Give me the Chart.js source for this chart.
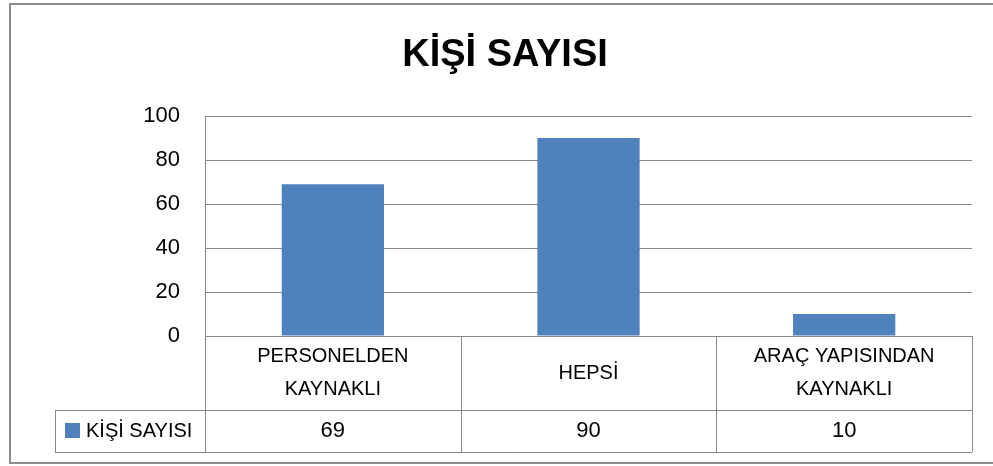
<!DOCTYPE html>
<html>
<head>
<meta charset="utf-8">
<script src="https://cdn.jsdelivr.net/npm/chart.js@4"></script>
<style>
html, body { margin: 0; padding: 0; background: #fff; }
#wrap { width: 993px; height: 466px; }
</style>
</head>
<body>
<div id="wrap"><canvas id="myChart" width="993" height="466"></canvas></div>
<script>
const chartTitle = "KİŞİ SAYISI";
const seriesName = "KİŞİ SAYISI";
const categories = [["PERSONELDEN", "KAYNAKLI"], ["HEPSİ"], ["ARAÇ YAPISINDAN", "KAYNAKLI"]];
const values = [69, 90, 10];
const yTicks = [0, 20, 40, 60, 80, 100];

const FONT = "'Liberation Sans', Arial, sans-serif";
const barColor = "#4F81BD";
const lineColor = "#868686";

// draws the outer frame, the title and the excel-like data table under the plot
const tablePlugin = {
    id: "tablePlugin",
    afterDraw(chart) {
        const ctx = chart.ctx;
        const area = chart.chartArea;
        const n = categories.length;
        const colW = (area.right - area.left) / n;
        const rowTop = area.bottom;
        const rowMid = rowTop + 74;
        const rowBot = rowMid + 42;
        const legLeft = 55;

        ctx.save();
        // outer frame
        ctx.strokeStyle = "#8c8c8c";
        ctx.lineWidth = 2;
        ctx.strokeRect(10, 4, 1000, 459);

        // title
        ctx.fillStyle = "#000";
        ctx.font = "bold 38px " + FONT;
        ctx.textAlign = "center";
        ctx.textBaseline = "middle";
        ctx.fillText(chartTitle, 505, 56);

        // table lines
        ctx.strokeStyle = lineColor;
        ctx.lineWidth = 1;
        ctx.beginPath();
        ctx.moveTo(area.left, rowTop + 0.5); ctx.lineTo(area.right, rowTop + 0.5);
        ctx.moveTo(legLeft, rowMid + 0.5); ctx.lineTo(area.right, rowMid + 0.5);
        ctx.moveTo(legLeft, rowBot + 0.5); ctx.lineTo(area.right, rowBot + 0.5);
        ctx.moveTo(legLeft + 0.5, rowMid); ctx.lineTo(legLeft + 0.5, rowBot);
        for (let i = 0; i <= n; i++) {
            const x = Math.round(area.left + i * colW) + 0.5;
            ctx.moveTo(x, rowTop); ctx.lineTo(x, rowBot);
        }
        ctx.stroke();

        // category labels and values
        ctx.fillStyle = "#000";
        for (let i = 0; i < n; i++) {
            const cx = area.left + (i + 0.5) * colW;
            const lines = categories[i];
            ctx.font = "20px " + FONT;
            const cy = (rowTop + rowMid) / 2;
            lines.forEach((t, j) => {
                const y = cy + (j - (lines.length - 1) / 2) * 33;
                ctx.fillText(t, cx, y);
            });
            ctx.font = "22px " + FONT;
            ctx.fillText(String(values[i]), cx, (rowMid + rowBot) / 2);
        }

        // legend key
        ctx.fillStyle = barColor;
        ctx.fillRect(65, 423, 15, 15);
        ctx.fillStyle = "#000";
        ctx.textAlign = "left";
        ctx.font = "20px " + FONT;
        ctx.fillText(seriesName, 86, (rowMid + rowBot) / 2);
        ctx.restore();
    }
};

const ctx = document.getElementById("myChart");
new Chart(ctx, {
    type: "bar",
    data: {
        labels: categories,
        datasets: [{
            label: seriesName,
            data: values,
            backgroundColor: barColor,
            borderWidth: 0,
            barPercentage: 0.4,
            categoryPercentage: 1.0
        }]
    },
    options: {
        responsive: false,
        animation: false,
        layout: { padding: { top: 116, bottom: 130, left: 0, right: 21 } },
        plugins: {
            legend: { display: false },
            title: { display: false },
            tooltip: { enabled: false }
        },
        scales: {
            x: {
                display: false,
                offset: true
            },
            y: {
                min: 0,
                max: 100,
                afterFit: s => { s.width = 205; },
                afterBuildTicks: s => { s.ticks = yTicks.map(v => ({ value: v })); },
                grid: { color: lineColor, drawTicks: false },
                border: { display: true, color: lineColor },
                ticks: {
                    color: "#000",
                    padding: 25,
                    font: { family: FONT, size: 22 }
                }
            }
        }
    },
    plugins: [tablePlugin]
});
</script>
</body>
</html>
